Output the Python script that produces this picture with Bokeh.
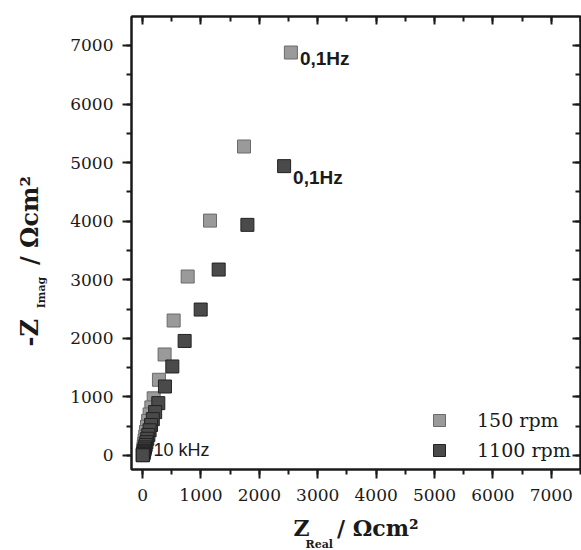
from bokeh.plotting import figure
from bokeh.models import (LinearAxis, Range1d, Label, Legend, LegendItem,
                          SingleIntervalTicker, Title)
from bokeh.embed import file_html
from bokeh.resources import INLINE

# ---- data ----
x150 = [2540, 1737, 1155, 772, 532, 377, 280, 190, 150, 120, 95, 75, 58, 45,
        35, 27, 20, 15, 11, 8, 5, 3, 2]
y150 = [6880, 5275, 4010, 3055, 2304, 1724, 1292, 975, 820, 700, 590, 490, 400,
        320, 255, 200, 150, 110, 78, 52, 32, 16, 6]
x1100 = [2424, 1795, 1303, 995, 720, 509, 383, 269, 215, 175, 145, 120, 98, 80,
         65, 52, 42, 33, 26, 20, 15, 11, 7, 4]
y1100 = [4940, 3937, 3174, 2491, 1955, 1519, 1177, 893, 740, 620, 520, 430, 350,
         285, 225, 178, 138, 105, 78, 55, 36, 22, 10, 3]
series_labels = ["150 rpm", "1100 rpm"]
ann_low = "10 kHz"
ann_high = "0,1Hz"
XMIN, XMAX = -190, 7500
YMIN, YMAX = -240, 7495

SERIF = "DejaVu Serif"
SANS = "Liberation Sans"
INK = "#1a1a1a"
EM, EN = "\u2003", "\u2002"

p = figure(width=581, height=550, output_backend="svg", toolbar_location=None,
           x_range=Range1d(XMIN, XMAX), y_range=Range1d(YMIN, YMAX),
           min_border_left=131, min_border_right=1, min_border_top=16,
           min_border_bottom=81)
p.grid.visible = False
p.outline_line_color = INK
p.outline_line_width = 2
p.background_fill_color = "white"

p.add_layout(LinearAxis(), "above")
p.add_layout(LinearAxis(), "right")

for ax in p.axis:
    ax.ticker = SingleIntervalTicker(interval=1000, num_minor_ticks=2)
    ax.axis_line_color = INK
    ax.axis_line_width = 2
    ax.major_tick_line_color = INK
    ax.major_tick_line_width = 2
    ax.minor_tick_line_color = INK
    ax.minor_tick_line_width = 2
    ax.major_label_text_font = SERIF
    ax.major_label_text_font_size = "17px"
    ax.major_label_text_color = INK
    ax.axis_label_text_font = SERIF
    ax.axis_label_text_font_style = "bold"
    ax.axis_label_text_color = INK

bottom = p.below[0]
left = p.left[0]
top = p.above[0]
right = p.right[0]
for ax in (bottom, left):
    ax.major_tick_out = 9
    ax.major_tick_in = 0
    ax.minor_tick_out = 5
    ax.minor_tick_in = 0
bottom.major_label_standoff = 10
left.major_label_standoff = 9
for ax in (top, right):
    ax.major_tick_in = 8
    ax.major_tick_out = 0
    ax.minor_tick_in = 5
    ax.minor_tick_out = 0
    ax.major_label_text_font_size = "1px"
    ax.major_label_text_color = None
    ax.major_label_standoff = 0

# x title: main text on the axis, subscript as a title row below it
bottom.axis_label = "Z" + EM + "\u2005" + "/ \u03a9cm\u00b2"
bottom.axis_label_text_font_size = "22px"
bottom.axis_label_standoff = 11
p.add_layout(Title(text="Real", align="left", offset=174, standoff=-12,
                   vertical_align="top", text_font=SERIF, text_font_style="bold",
                   text_font_size="11px", text_color=INK), "below")

# y title: subscript on the axis (nearest the frame), main text outside it
left.axis_label = "Imag" + EM * 9
left.axis_label_text_font_size = "11px"
left.axis_label_standoff = 19
p.add_layout(Title(text="-Z" + EM + EM + "\u2005" + "/ \u03a9cm\u00b2", align="left",
                   offset=123, standoff=-22, vertical_align="bottom",
                   text_font=SERIF, text_font_style="bold", text_font_size="24px",
                   text_color=INK), "left")

r1 = p.scatter(x150, y150, marker="square", size=13, fill_color="#9a9a9a",
               line_color="#6a6a6a", line_width=1)
r2 = p.scatter(x1100, y1100, marker="square", size=13, fill_color="#4a4a4a",
               line_color="#222222", line_width=1)

legend = Legend(items=[LegendItem(label=series_labels[0], renderers=[r1]),
                       LegendItem(label=series_labels[1], renderers=[r2])],
                location=(293, 4), border_line_color=None,
                background_fill_alpha=0, padding=0, margin=0, spacing=0,
                glyph_width=30, glyph_height=30, label_height=30,
                label_standoff=23, label_text_font=SERIF,
                label_text_font_size="19px", label_text_color=INK)
p.add_layout(legend)

# annotations
p.add_layout(Label(x=x150[0], y=y150[0], x_offset=9, y_offset=-6, text=ann_high,
                   text_font=SANS, text_font_style="bold", text_font_size="19px",
                   text_baseline="middle", text_color=INK))
p.add_layout(Label(x=x1100[0], y=y1100[0], x_offset=9, y_offset=-11, text=ann_high,
                   text_font=SANS, text_font_style="bold", text_font_size="19px",
                   text_baseline="middle", text_color=INK))
p.add_layout(Label(x=188, y=85, text=ann_low, text_font=SANS,
                   text_font_size="18px", text_baseline="middle", text_color=INK))

open("out.html", "w").write(file_html(p, INLINE))
